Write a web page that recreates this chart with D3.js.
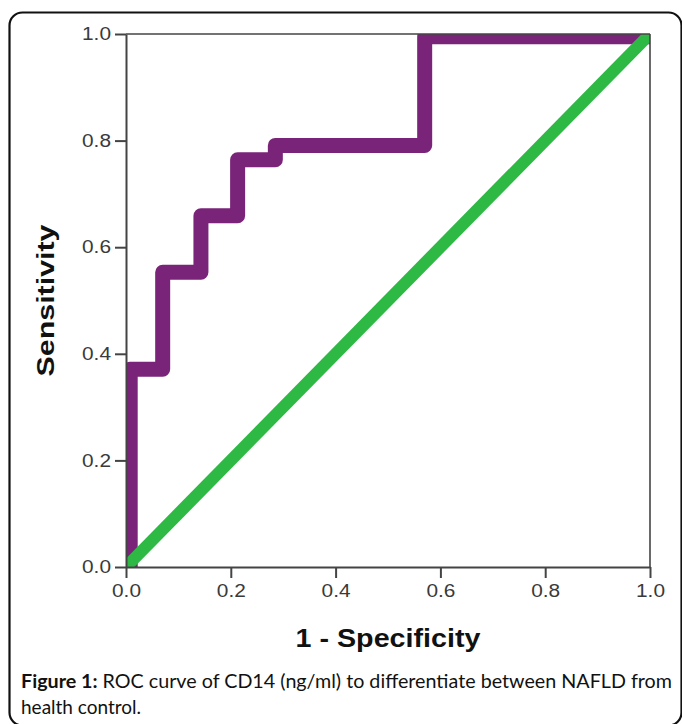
<!DOCTYPE html>
<html>
<head>
<meta charset="utf-8">
<script src="https://cdn.jsdelivr.net/npm/d3@7/dist/d3.min.js"></script>
<style>
  body { margin: 0; background: #fff; }
  svg { display: block; }
</style>
</head>
<body>
<script>
// ROC corner points (1 - specificity, sensitivity)
var fpr = [0.008, 0.070, 0.143, 0.213, 0.285, 0.570, 1.0];
var tpr = [0.0, 0.371, 0.553, 0.659, 0.764, 0.791, 0.995];
// reference diagonal
var refLine = [[0, 0], [1, 1]];
var xTicks = [0, 0.2, 0.4, 0.6, 0.8, 1.0];
var yTicks = [0, 0.2, 0.4, 0.6, 0.8, 1.0];
var xTitle = '1 - Specificity';
var yTitle = 'Sensitivity';
var captionBold = 'Figure 1:';
var captionLine1 = ' ROC curve of CD14 (ng/ml) to differentiate between NAFLD from';
var captionLine2 = 'health control.';

window.onload = function(){

    var W = 682, H = 724;
    var box = {left: 126, right: 650, top: 34, bottom: 567};

    var svg = d3.select(document.body).append('svg')
        .attr('width', W)
        .attr('height', H);

    // outer frame
    svg.append('rect')
        .attr('x', 9.5).attr('y', 12.5)
        .attr('width', 672).attr('height', 713)
        .attr('rx', 13).attr('ry', 13)
        .attr('fill', 'none')
        .attr('stroke', '#111')
        .attr('stroke-width', 2.2);

    var x = d3.scaleLinear().domain([0, 1]).range([box.left, box.right]);
    var y = d3.scaleLinear().domain([0, 1]).range([box.bottom, box.top]);

    svg.append('clipPath').attr('id', 'plotclip')
        .append('rect')
        .attr('x', box.left).attr('y', box.top)
        .attr('width', box.right - box.left)
        .attr('height', box.bottom - box.top);

    var plot = svg.append('g').attr('clip-path', 'url(#plotclip)');

    var rocPts = fpr.map(function(d, i){ return [d, tpr[i]]; });

    var stepLine = d3.line()
        .x(function(d){ return x(d[0]); })
        .y(function(d){ return y(d[1]); })
        .curve(d3.curveStepBefore);

    plot.append('path')
        .attr('d', stepLine(rocPts))
        .attr('fill', 'none')
        .attr('stroke', '#7a2479')
        .attr('stroke-width', 15)
        .attr('stroke-linejoin', 'round');

    plot.append('path')
        .attr('d', d3.line().x(function(d){ return x(d[0]); }).y(function(d){ return y(d[1]); })(refLine))
        .attr('fill', 'none')
        .attr('stroke', '#2eb844')
        .attr('stroke-width', 12);

    // box: top and right edges
    svg.append('line')
        .attr('x1', box.left).attr('x2', box.right)
        .attr('y1', box.top).attr('y2', box.top)
        .attr('stroke', '#444').attr('stroke-width', 1.6);
    svg.append('line')
        .attr('x1', box.right).attr('x2', box.right)
        .attr('y1', box.top).attr('y2', box.bottom)
        .attr('stroke', '#444').attr('stroke-width', 1.6);

    var fmt = d3.format('.1f');

    var gx = svg.append('g')
        .attr('transform', 'translate(0,' + box.bottom + ')')
        .call(d3.axisBottom(x).tickValues(xTicks).tickFormat(fmt).tickSize(11).tickPadding(6).tickSizeOuter(0));

    var gy = svg.append('g')
        .attr('transform', 'translate(' + box.left + ',0)')
        .call(d3.axisLeft(y).tickValues(yTicks).tickFormat(fmt).tickSize(11).tickPadding(4).tickSizeOuter(0));

    [gx, gy].forEach(function(g){
        g.select('.domain').attr('stroke', '#444').attr('stroke-width', 2);
        g.selectAll('.tick line').attr('stroke', '#444').attr('stroke-width', 2);
        g.selectAll('.tick text')
            .attr('fill', '#3a3a3a')
            .style('font-family', '"Liberation Sans", Arial, sans-serif')
            .style('font-size', '18px')
            .attr('textLength', 29)
            .attr('lengthAdjust', 'spacingAndGlyphs');
    });

    // axis titles
    svg.append('text')
        .attr('x', (box.left + box.right) / 2)
        .attr('y', 647)
        .attr('text-anchor', 'middle')
        .style('font-family', '"Liberation Sans", Arial, sans-serif')
        .style('font-weight', 'bold')
        .style('font-size', '25px')
        .attr('fill', '#111')
        .attr('textLength', 185)
        .attr('lengthAdjust', 'spacingAndGlyphs')
        .text(xTitle);

    svg.append('text')
        .attr('transform', 'translate(54,' + ((box.top + box.bottom) / 2) + ') rotate(-90)')
        .attr('text-anchor', 'middle')
        .style('font-family', '"Liberation Sans", Arial, sans-serif')
        .style('font-weight', 'bold')
        .style('font-size', '23px')
        .attr('fill', '#111')
        .attr('textLength', 152)
        .attr('lengthAdjust', 'spacingAndGlyphs')
        .text(yTitle);

    // caption
    var cap = svg.append('g')
        .style('font-family', 'Lato, "Open Sans", sans-serif')
        .style('font-size', '19px')
        .attr('fill', '#111');

    var t1 = cap.append('text')
        .attr('x', 21).attr('y', 688)
        .attr('textLength', 651)
        .attr('lengthAdjust', 'spacingAndGlyphs');
    t1.append('tspan').style('font-weight', 'bold').text(captionBold);
    t1.append('tspan').text(captionLine1);

    cap.append('text')
        .attr('x', 21).attr('y', 714)
        .text(captionLine2);
};
</script>
</body>
</html>
